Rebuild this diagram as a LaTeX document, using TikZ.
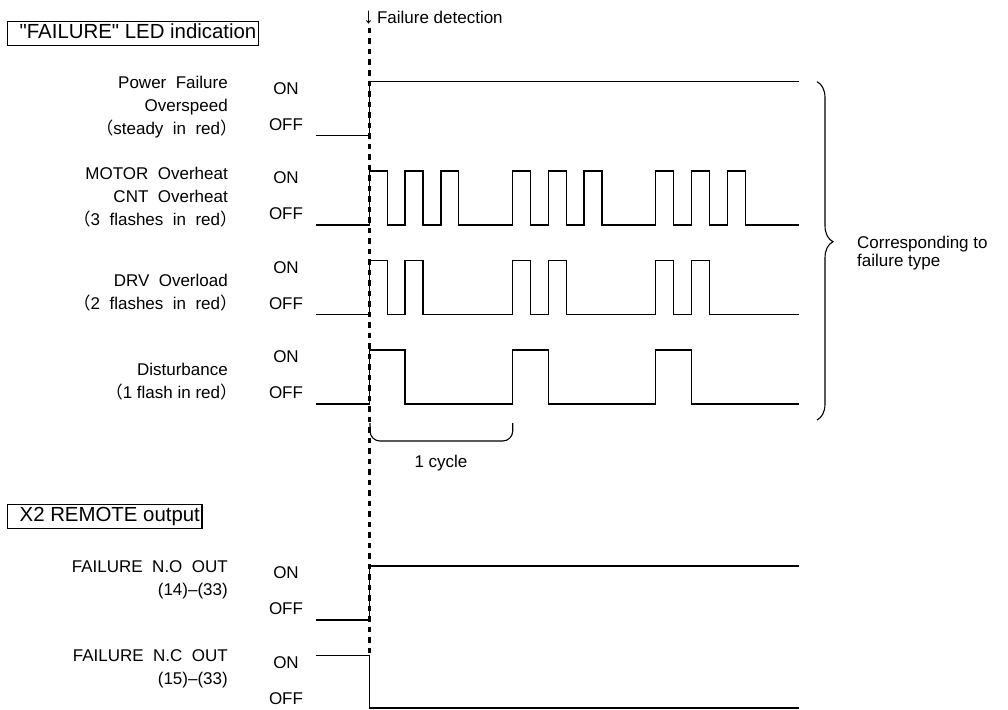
\documentclass[tikz,border=0pt]{standalone}
\usepackage{fontspec}
\setmainfont{Liberation Sans}
\newfontfamily\cjk{Noto Sans CJK JP}
\usetikzlibrary{decorations.pathreplacing}

\newcommand{\fwlp}{{\cjk （}}
\newcommand{\fwrp}{{\cjk ）}\kern-0.55em}

\begin{document}
\begin{tikzpicture}[x=1pt,y=-1pt,
    sig/.style={line width=1.3pt},
    lvl/.style={font=\fontsize{17}{20}\selectfont, inner sep=0pt},
    lbl/.style={font=\fontsize{17}{23}\selectfont, align=right, anchor=east, inner sep=0pt},
    head/.style={draw, line width=1.3pt, anchor=west, font=\fontsize{20.4}{24}\selectfont,
                 inner xsep=2pt, inner ysep=2.5pt, text height=15pt, text depth=4pt}]
      \useasboundingbox (0,0) rectangle (1008,709);

      % headers
      \node[head] (ledhead) at (7,33.5) {\hspace{10pt}\textquotedbl FAILURE\textquotedbl\ LED indication};
      \node[head] (x2head) at (7,516.4) {\hspace{10pt}X2 REMOTE output};
      \node[lvl, anchor=west] (det) at (363,18) {{\fontsize{22}{22}\selectfont↓}\,Failure detection};

      % detection line
      \coordinate (dtop) at (369.3,28);
      \coordinate (dbot) at (369.3,655.5);
      \draw[line width=2.5pt, dash pattern=on 5.5pt off 5pt] (dtop) -- (dbot);

      % signal names
      \node[lbl] (pf) at (228,106.7) {Power~~Failure\\Overspeed\\\fwlp steady~~in~~red\fwrp};
      \node[lbl] (mo) at (228,197.5) {MOTOR~~Overheat\\CNT~~Overheat\\\fwlp 3~~flashes~~in~~red\fwrp};
      \node[lbl] (drv) at (228,292.5) {DRV~~Overload\\\fwlp 2~~flashes~~in~~red\fwrp};
      \node[lbl] (dist) at (228,382) {Disturbance\\\fwlp 1 flash in red\fwrp};
      \node[lbl] (no) at (228,579.5) {FAILURE~~N.O~~OUT\\(14)–(33)};
      \node[lbl] (nc) at (228,669.2) {FAILURE~~N.C~~OUT\\(15)–(33)};

      % ON / OFF
      \foreach \n/\y in {1/81.5,2/171,3/260.5,4/350,5/566,6/655.5} {
        \node[lvl] (on\n) at (286,{\y+7}) {ON};
        \node[lvl] (off\n) at (286,{\y+43}) {OFF};
      }

      % steady
      \draw[sig] (315.5,135.5) -- (369.3,135.5) -- (369.3,81.5) -- (798.7,81.5);
      % 3 flashes
      \draw[sig] (315.5,225) foreach \c in {0,1,2} {foreach \k in {0,2,4} {
          -- ({369.3+(8*\c+\k)*17.9},225) -- ({369.3+(8*\c+\k)*17.9},171)
          -- ({369.3+(8*\c+\k+1)*17.9},171) -- ({369.3+(8*\c+\k+1)*17.9},225)}} -- (798.7,225);
      % 2 flashes
      \draw[sig] (315.5,314.5) foreach \c in {0,1,2} {foreach \k in {0,2} {
          -- ({369.3+(8*\c+\k)*17.9},314.5) -- ({369.3+(8*\c+\k)*17.9},260.5)
          -- ({369.3+(8*\c+\k+1)*17.9},260.5) -- ({369.3+(8*\c+\k+1)*17.9},314.5)}} -- (798.7,314.5);
      % 1 flash
      \draw[sig] (315.5,404) foreach \c in {0,1,2} {
          -- ({369.3+8*\c*17.9},404) -- ({369.3+8*\c*17.9},350)
          -- ({369.3+(8*\c+2)*17.9},350) -- ({369.3+(8*\c+2)*17.9},404)} -- (798.7,404);

      % X2 outputs
      \draw[sig] (315.5,620) -- (369.3,620) -- (369.3,566) -- (798.7,566);
      \draw[sig] (315.5,655.5) -- (369.3,655.5) -- (369.3,708) -- (798.7,708);

      % cycle bracket
      \draw[line width=1.1pt, rounded corners=10pt] (370,423) -- (370,441) -- (512.7,441) -- (512.7,423);
      \node[lvl] (cyc) at (441,463.3) {1 cycle};

      % failure type brace
      \draw[line width=1.1pt, decorate, decoration={brace, amplitude=16pt, aspect=0.473}] (817,81.7) -- (817,420);
      \node[lvl, anchor=west, align=left, font=\fontsize{17}{18}\selectfont] (corr) at (857,252.8) {Corresponding to\\failure type};
    \end{tikzpicture}
\end{document}
